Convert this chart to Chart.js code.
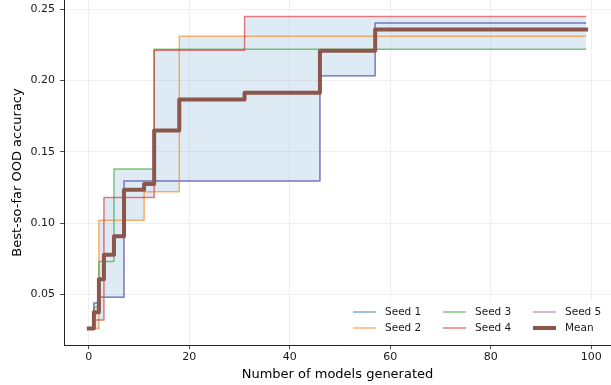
<!DOCTYPE html>
<html>
<head>
<meta charset="utf-8">
<script src="https://cdn.jsdelivr.net/npm/chart.js@4.4.1/dist/chart.umd.min.js"></script>
<style>
html, body { margin: 0; padding: 0; background: #fff; }
</style>
</head>
<body>
<canvas id="oodChart" width="611" height="385"></canvas>
<script>

// best-so-far OOD accuracy, one step per new best model
const seedNames = ["Seed 1", "Seed 2", "Seed 3", "Seed 4", "Seed 5"];

const seed1X = [0, 1, 2, 7, 46, 57, 99];
const seed1Y = [0.026, 0.044, 0.048, 0.1296, 0.2034, 0.2404, 0.2404];

const seed2X = [0, 2, 11, 18, 99];
const seed2Y = [0.026, 0.102, 0.122, 0.2311, 0.2311];

const seed3X = [0, 1, 2, 5, 13, 99];
const seed3Y = [0.026, 0.041, 0.073, 0.138, 0.222, 0.222];

const seed4X = [0, 1, 3, 13, 31, 99];
const seed4Y = [0.026, 0.032, 0.118, 0.2213, 0.245, 0.245];

const seed5X = [0, 1, 2, 7, 46, 57, 99];
const seed5Y = [0.026, 0.044, 0.048, 0.1296, 0.2034, 0.2404, 0.2404];

const xTicks = [0, 20, 40, 60, 80, 100];
const yTicks = [0.05, 0.10, 0.15, 0.20, 0.25];

const seedColors = [
    "rgba(31,119,180,0.6)",
    "rgba(255,127,14,0.6)",
    "rgba(44,160,44,0.6)",
    "rgba(214,39,40,0.6)",
    "rgba(148,103,189,0.6)"
];
const meanColor = "#8c564b";
const bandColor = "rgba(31,119,180,0.15)";

const seedXs = [seed1X, seed2X, seed3X, seed4X, seed5X];
const seedYs = [seed1Y, seed2Y, seed3Y, seed4Y, seed5Y];

function stepValue(xs, ys, x) {
    let v = ys[0];
    for (let i = 0; i < xs.length; i++) {
        if (xs[i] <= x) v = ys[i];
    }
    return v;
}

// all x where any seed changes
let breaks = [];
seedXs.forEach(xs => xs.forEach(x => { if (!breaks.includes(x)) breaks.push(x); }));
breaks.sort((a, b) => a - b);

let meanData = [], lowData = [], highData = [];
breaks.forEach(x => {
    let vals = seedXs.map((xs, i) => stepValue(xs, seedYs[i], x));
    let sum = vals.reduce((a, b) => a + b, 0);
    meanData.push({ x: x, y: sum / vals.length });
    lowData.push({ x: x, y: Math.min(...vals) });
    highData.push({ x: x, y: Math.max(...vals) });
});

Chart.defaults.font.family = "'DejaVu Sans', sans-serif";
Chart.defaults.color = "#000";

let datasets = [];

datasets.push({
    label: "Mean",
    data: meanData,
    borderColor: meanColor,
    borderWidth: 4,
    borderJoinStyle: "round",
    borderCapStyle: "square",
    stepped: "before",
    pointRadius: 0,
    fill: false,
    order: 0
});

for (let i = 4; i >= 0; i--) {
    datasets.push({
        label: seedNames[i],
        data: seedXs[i].map((x, j) => ({ x: x, y: seedYs[i][j] })),
        borderColor: seedColors[i],
        borderWidth: 1.5,
        borderJoinStyle: "round",
        stepped: "before",
        pointRadius: 0,
        fill: false,
        order: 1 + (4 - i)
    });
}

datasets.push({
    label: "band high",
    data: highData,
    borderWidth: 0,
    borderColor: "rgba(0,0,0,0)",
    backgroundColor: bandColor,
    stepped: "before",
    pointRadius: 0,
    fill: "+1",
    order: 10
});

datasets.push({
    label: "band low",
    data: lowData,
    borderWidth: 0,
    borderColor: "rgba(0,0,0,0)",
    stepped: "before",
    pointRadius: 0,
    fill: false,
    order: 11
});

const legendItems = [
    { name: "Seed 1", color: seedColors[0], width: 1.5, col: 0, row: 0 },
    { name: "Seed 2", color: seedColors[1], width: 1.5, col: 0, row: 1 },
    { name: "Seed 3", color: seedColors[2], width: 1.5, col: 1, row: 0 },
    { name: "Seed 4", color: seedColors[3], width: 1.5, col: 1, row: 1 },
    { name: "Seed 5", color: seedColors[4], width: 1.5, col: 2, row: 0 },
    { name: "Mean", color: meanColor, width: 4, col: 2, row: 1 }
];

const seedLegend = {
    id: "seedLegend",
    afterDraw(chart) {
        const ctx = chart.ctx;
        const colX = [353, 443, 533];
        const rowY = [312, 328];
        ctx.save();
        ctx.fillStyle = "rgba(255,255,255,0.8)";
        ctx.fillRect(346, 300, 262, 40);
        ctx.font = "10.5px 'DejaVu Sans', sans-serif";
        ctx.textBaseline = "middle";
        legendItems.forEach(item => {
            let x = colX[item.col];
            let y = rowY[item.row];
            ctx.strokeStyle = item.color;
            ctx.lineWidth = item.width;
            ctx.beginPath();
            ctx.moveTo(x, y);
            ctx.lineTo(x + 23, y);
            ctx.stroke();
            ctx.fillStyle = "#1a1a1a";
            ctx.fillText(item.name, x + 32, y + 0.5);
        });
        ctx.restore();
    }
};

new Chart(document.getElementById("oodChart"), {
    type: "line",
    data: { datasets: datasets },
    plugins: [seedLegend],
    options: {
        responsive: false,
        animation: false,
        devicePixelRatio: 1,
        layout: { padding: 0 },
        plugins: {
            legend: { display: false },
            tooltip: { enabled: false }
        },
        scales: {
            x: {
                type: "linear",
                min: -4.95,
                max: 103.95,
                afterBuildTicks: s => { s.ticks = xTicks.map(v => ({ value: v })); },
                afterFit: s => { s.height = 40; s.paddingLeft = 0; s.paddingRight = 0; },
                ticks: {
                    font: { size: 11 },
                    color: "#1a1a1a",
                    padding: 2,
                    maxRotation: 0,
                    autoSkip: false,
                    callback: v => String(v)
                },
                grid: { color: "#ebebeb", lineWidth: 0.8, tickColor: "#222", tickLength: 4 },
                border: { color: "#222", width: 1 },
                title: {
                    display: true,
                    text: "Number of models generated",
                    font: { size: 13 },
                    color: "#000",
                    padding: { top: 0, bottom: 3 }
                }
            },
            y: {
                type: "linear",
                min: 0.0145,
                max: 0.2565,
                afterBuildTicks: s => { s.ticks = yTicks.map(v => ({ value: v })); },
                afterFit: s => { s.width = 64; s.paddingTop = 0; s.paddingBottom = 0; },
                ticks: {
                    font: { size: 11 },
                    color: "#1a1a1a",
                    padding: 5,
                    callback: v => v.toFixed(2)
                },
                grid: { color: "#ebebeb", lineWidth: 0.8, tickColor: "#222", tickLength: 4 },
                border: { color: "#222", width: 1 },
                title: {
                    display: true,
                    text: "Best-so-far OOD accuracy",
                    font: { size: 13 },
                    color: "#000",
                    padding: { top: 10, bottom: 0 }
                }
            }
        }
    }
});
</script>
</body>
</html>
